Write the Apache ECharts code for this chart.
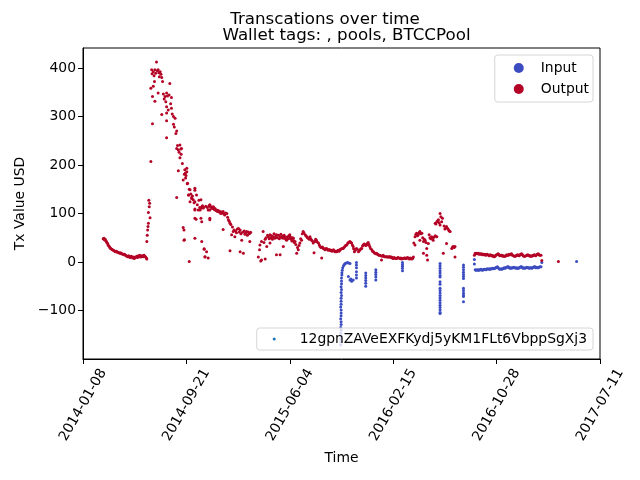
<!DOCTYPE html>
<html>
<head>
<meta charset="utf-8">
<title>Transcations over time</title>
<script src="https://cdn.jsdelivr.net/npm/echarts@6.0.0/dist/echarts.min.js"></script>
<style>
    html, body { margin: 0; padding: 0; background: #fff; }
    #chart { width: 640px; height: 480px; }
</style>
</head>
<body>
<div id="chart"></div>
<script>
// x values are days since the first tick (2014-01-08)
const startDate = Date.UTC(2014, 0, 8);
const dayMs = 24 * 3600 * 1000;
const xTickLabels = ['2014-01-08', '2014-09-21', '2015-06-04', '2016-02-15', '2016-10-28', '2017-07-11'];
const walletName = '12gpnZAVeEXFKydj5yKM1FLt6VbppSgXj3';

// [day, usd]
const outputTx = [
    [50,48],[52,49],[53,46],[55,47],[56,44],[58,42],[59,40],[61,38],[62,35],[64,33],[66,31],[67,29],[69,28],[71,26],[73,25],[75,24],[77,23],[79,22],[81,21],[83,22],[85,20],[87,20],[89,19],[91,18],[93,19],[95,17],[97,17],[99,16],[101,15],[103,16],[105,14],[107,13],[109,12],[111,11],[113,13],[115,10],[117,9],[119,12],[121,11],[123,8],[125,10],[127,7],[129,9],[131,10],[133,12],[135,9],[137,13],[139,11],[141,14],[143,10],[145,12],[147,13],[149,11],[151,14],[153,12],[155,10],[157,8],[158,6],
    [158,42],[159,55],[160,66],[161,73],[162,80],[162,102],[163,127],[164,114],[165,121],[166,91],[168,207],[172,285],
    [168,358],[170,396],[171,388],[172,341],[174,392],[174,362],[176,384],[177,372],[178,396],[178,331],[180,389],[182,412],[184,394],[186,396],[186,348],[188,390],[189,382],[191,392],[193,387],[195,380],[195,304],[197,372],[199,346],[201,336],[203,341],[205,330],[207,348],[207,320],[207,307],[207,291],[207,256],[209,342],[211,313],[213,344],[215,368],[217,326],[219,339],[219,317],[221,305],[224,300],[224,284],[226,278],[228,296],[230,265],[232,270],[232,234],[232,133],[234,240],[236,231],[236,188],[238,226],[240,241],[240,215],[242,233],[243,222],[244,234],[246,203],[248,71],[248,169],[250,66],[250,45],[251,181],[251,46],[252,190],[253,183],[254,173],[255,178],[257,186],[257,193],[258,161],[259,162],[261,138],[262,138],[263,150],[263,1],[265,149],[265,124],[267,140],[269,133],[269,131],[271,136],[273,128],[275,122],[277,152],[277,148],[277,124],[277,109],[277,107],[277,90],[277,49],[280,88],[281,138],[283,118],[285,107],[287,127],[289,112],[290,107],[292,128],[292,90],[294,114],[294,111],[294,83],[294,42],[296,116],[298,113],[298,111],[300,27],[300,26],[302,11],[302,10],[304,115],[306,21],[308,112],[310,107],[310,8],[312,116],[314,118],[314,107],[314,90],[314,87],[316,113],[318,114],[320,110],[322,111],[323,114],[325,108],[327,110],[329,106],[331,107],[333,104],[335,106],[337,103],[339,104],[341,100],[343,103],[345,101],[347,104],[347,67],[349,99],[351,97],[353,101],[356,100],[358,92],[360,87],[362,84],[364,80],[364,23],[366,77],[368,56],[370,72],[372,63],[374,66],[376,52],[378,64],[380,60],[382,68],[385,69],[387,62],[389,66],[389,21],[391,58],[393,45],[395,61],[397,18],[399,64],[401,57],[403,60],[405,63],[407,55],[409,62],[411,58],[413,59],[413,42],[415,61],
    [434,10],[437,25],[438,35],[440,2],[442,42],[442,4],[446,63],[448,40],[451,47],[451,6],[453,50],[455,32],[457,55],[459,52],[461,48],[463,56],[463,39],[465,50],[467,54],[469,47],[471,52],[473,58],[475,49],[477,53],[479,56],[479,15],[481,50],[484,55],[486,48],[488,52],[488,15],[490,57],[492,50],[494,53],[496,49],[496,32],[498,55],[500,51],[502,47],[504,45],[506,52],[508,48],[510,54],[512,49],[512,56],[514,51],[516,47],[517,43],[519,50],[521,49],[521,44],[523,40],[525,42],[527,36],[529,18],[531,30],[533,25],[535,34],[537,39],[539,48],[541,45],[543,58],[545,63],[547,60],[550,56],[552,54],[554,52],[556,50],[558,49],[560,47],[562,52],[564,48],[566,45],[568,43],[570,39],[572,19],[574,42],[576,47],[578,45],[580,41],[583,39],[585,35],[587,32],[589,30],[591,8],[593,31],[595,28],[597,27],[599,25],[601,27],[603,28],[605,26],[607,24],[609,25],[611,25],[613,23],[615,24],[617,22],[620,25],[622,23],[624,21],[626,22],[628,21],[630,23],[632,24],[634,22],[636,25],[638,26],[640,27],[642,28],[644,28],[646,30],[648,32],[650,34],[653,35],[655,38],[657,40],[659,41],[661,42],[663,40],[665,39],[667,35],[669,32],[670,27],[672,21],[674,24],[677,28],[679,26],[682,21],[684,23],[686,25],[688,27],[690,28],[692,33],[694,35],[696,37],[698,36],[700,34],[702,35],[704,38],[706,40],[708,36],[710,32],[712,28],[715,25],[717,22],[719,21],[721,19],[723,18],[725,17],[727,18],[729,16],[731,15],[733,14],[735,14],[737,13],[739,4],[741,12],[743,14],[745,12],[747,11],[750,11],[752,11],[754,10],[756,10],[758,11],[760,11],[762,9],[764,10],[766,8],[768,7],[770,9],[772,8],[774,7],[776,7],[778,8],[780,9],[782,8],[785,7],[787,8],[789,6],[791,7],[793,7],[795,8],[797,8],[799,7],[801,7],[803,9],[806,8],[808,6],[809,7],[811,8],[814,6],[816,7],[818,10],
    [819,39],[822,52],[822,35],[824,57],[826,59],[826,56],[828,54],[830,56],[832,60],[834,63],[834,45],[836,58],[839,59],[841,50],[843,42],[843,18],[845,47],[847,45],[849,40],[851,28],[851,14],[853,4],[855,38],[857,56],[859,50],[861,48],[863,52],[865,49],[867,45],[869,51],[872,54],[872,80],[874,78],[876,52],[876,83],[878,85],[880,87],[882,81],[884,100],[884,76],[886,93],[888,83],[890,90],[892,18],[894,74],[896,68],[898,70],[900,38],[900,73],[903,69],[905,66],[907,64],[909,63],[913,28],[915,31],[917,32],[919,30],[921,32],[921,10],
    [969,14],[971,18],[973,17],[975,18],[977,17],[979,18],[981,16],[983,17],[985,16],[987,17],[989,15],[991,16],[993,15],[995,16],[997,14],[999,15],[1001,16],[1004,14],[1006,13],[1008,15],[1010,14],[1012,14],[1014,12],[1016,13],[1018,11],[1020,12],[1022,14],[1024,15],[1026,16],[1028,17],[1030,15],[1032,13],[1035,14],[1037,14],[1039,12],[1041,13],[1043,12],[1045,12],[1047,13],[1049,15],[1051,14],[1053,14],[1055,16],[1057,15],[1059,16],[1061,17],[1063,14],[1066,13],[1068,12],[1070,12],[1072,13],[1074,14],[1076,15],[1078,14],[1080,13],[1082,15],[1084,16],[1086,17],[1088,15],[1090,13],[1092,12],[1094,12],[1097,13],[1099,14],[1101,15],[1103,14],[1105,13],[1107,12],[1109,13],[1111,12],[1113,13],[1115,14],[1117,15],[1119,14],[1121,13],[1123,15],[1125,16],[1127,17],[1129,15],[1131,14],[1134,14],[1136,3],[1177,1]
];

const inputTx = [
    [638,-171],[638,-165],[638,-159],[639,-153],[638,-147],[639,-141],[638,-135],[639,-129],[639,-123],[638,-117],[639,-111],[639,-105],[639,-99],[638,-93],[639,-87],[639,-81],[639,-75],[640,-69],[639,-63],[640,-57],[639,-51],[640,-45],[640,-39],[640,-33],[641,-27],[641,-22],[642,-17],[643,-12],[645,-8],[647,-5],[649,-3],[652,-2],[655,-1],[658,-2],[661,-3],
    [657,-30],[661,-37],[663,-35],[665,-40],[669,-37],
    [677,-1],[677,-6],[677,-12],[677,-20],[677,-27],[677,-33],
    [700,-23],[700,-28],[700,-33],[700,-38],[700,-44],[700,-50],
    [725,-16],[725,-21],[725,-26],[725,-31],[725,-37],
    [791,-1],[791,-5],[791,-9],[791,-13],[791,-18],
    [884,-3],[884,-8],[884,-13],[884,-18],[884,-23],[884,-28],[884,-31],[884,-41],[884,-46],[884,-54],[884,-59],[884,-64],[884,-69],[884,-74],[884,-79],[884,-84],[884,-89],[884,-94],[884,-99],[884,-104],[884,-106],
    [942,-6],[942,-11],[942,-16],[942,-21],[942,-26],[942,-30],[942,-34],[942,-54],[942,-59],[942,-64],[942,-68],[942,-71],[942,-82],
    [969,5],[969,-4],[971,-16],[973,-17],[975,-16],[977,-17],[979,-16],[981,-17],[983,-16],[985,-15],[987,-16],[989,-17],[991,-16],[993,-15],[995,-15],[997,-16],[999,-15],[1001,-14],[1004,-15],[1006,-14],[1008,-15],[1010,-14],[1012,-14],[1014,-13],[1016,-14],[1018,-13],[1020,-13],[1022,-12],[1024,-11],[1026,-10],[1028,-12],[1030,-14],[1032,-15],[1035,-14],[1037,-15],[1039,-14],[1041,-13],[1043,-12],[1045,-13],[1047,-12],[1049,-11],[1051,-10],[1053,-10],[1055,-12],[1057,-13],[1059,-12],[1061,-13],[1063,-12],[1066,-11],[1068,-12],[1070,-12],[1072,-13],[1074,-12],[1076,-13],[1078,-13],[1080,-12],[1082,-11],[1084,-10],[1086,-10],[1088,-12],[1090,-13],[1092,-12],[1094,-13],[1097,-12],[1099,-11],[1101,-12],[1103,-12],[1105,-13],[1107,-12],[1109,-12],[1111,-13],[1113,-12],[1115,-11],[1117,-10],[1119,-10],[1121,-12],[1123,-11],[1125,-12],[1127,-12],[1129,-11],[1131,-10],[1134,-10],[1136,-1],[1222,1]
];

const fontFamily = 'DejaVu Sans';
const inputColor = '#3b4cc0';
const outputColor = '#b40426';

let dateLabel = function (day) {
    let i = Math.round(day / 256);
    if (Math.abs(day - i * 256) < 0.5 && xTickLabels[i]) {
        return xTickLabels[i];
    }
    return new Date(startDate + day * dayMs).toISOString().slice(0, 10);
};

let chart = echarts.init(document.getElementById('chart'), null, { renderer: 'canvas' });

let legendBox = {
    orient: 'vertical',
    backgroundColor: 'rgba(255,255,255,0.8)',
    borderColor: '#d6d6d6',
    borderWidth: 1,
    borderRadius: 3,
    itemWidth: 10,
    itemHeight: 10,
    textStyle: { fontFamily: fontFamily, fontSize: 13.9, color: '#000', padding: [0, 0, 0, 12] }
};

let option = {
    animation: false,
    backgroundColor: '#fff',
    title: [
        {
            text: 'Transcations over time',
            left: 320,
            top: 6,
            textAlign: 'center',
            textStyle: { fontFamily: fontFamily, fontSize: 16.7, fontWeight: 'normal', color: '#000' }
        },
        {
            text: 'Wallet tags: , pools, BTCCPool',
            left: 341.5,
            top: 22,
            textAlign: 'center',
            textStyle: { fontFamily: fontFamily, fontSize: 16.7, fontWeight: 'normal', color: '#000' }
        }
    ],
    legend: [
        Object.assign({}, legendBox, {
            data: [{ name: 'Input', icon: 'circle' }, { name: 'Output', icon: 'circle' }],
            right: 47,
            top: 55,
            itemGap: 7,
            padding: [6, 4, 6, 19]
        }),
        Object.assign({}, legendBox, {
            data: [{ name: walletName, icon: 'circle' }],
            right: 47,
            top: 328,
            itemWidth: 3,
            itemHeight: 3,
            padding: [4, 6, 4, 16],
            textStyle: { fontFamily: fontFamily, fontSize: 13.9, color: '#000', padding: [0, 0, 0, 19] }
        })
    ],
    grid: {
        left: 83,
        right: 40,
        top: 48,
        bottom: 121,
        show: true,
        borderColor: '#000',
        borderWidth: 1,
        containLabel: false
    },
    xAxis: {
        type: 'value',
        min: 0,
        max: 1280,
        interval: 256,
        name: 'Time',
        nameLocation: 'middle',
        nameGap: 92,
        nameTextStyle: { fontFamily: fontFamily, fontSize: 13.9, color: '#000' },
        splitLine: { show: false },
        axisLine: { onZero: false, lineStyle: { color: '#000' } },
        axisTick: { length: 5, lineStyle: { color: '#000' } },
        axisLabel: {
            rotate: 60,
            align: 'center',
            verticalAlign: 'middle',
            margin: 46,
            fontFamily: fontFamily,
            fontSize: 13.9,
            color: '#000',
            formatter: dateLabel
        }
    },
    yAxis: {
        type: 'value',
        min: -200,
        max: 441,
        interval: 100,
        name: 'Tx Value USD',
        nameLocation: 'middle',
        nameGap: 56,
        nameTextStyle: { fontFamily: fontFamily, fontSize: 13.9, color: '#000' },
        splitLine: { show: false },
        axisLine: { show: true, lineStyle: { color: '#000' } },
        axisTick: { show: true, length: 5, lineStyle: { color: '#000' } },
        axisLabel: {
            showMinLabel: false,
            showMaxLabel: false,
            margin: 7,
            fontFamily: fontFamily,
            fontSize: 13.9,
            color: '#000',
            formatter: function (v) {
                if (v > 400) {
                    return '';
                }
                return v < 0 ? '\u2212' + Math.abs(v) : String(v);
            }
        }
    },
    series: [
        {
            name: 'Input',
            type: 'scatter',
            data: inputTx,
            symbolSize: 3,
            itemStyle: { color: inputColor, opacity: 1 },
            silent: true
        },
        {
            name: 'Output',
            type: 'scatter',
            data: outputTx,
            symbolSize: 3,
            itemStyle: { color: outputColor, opacity: 1 },
            silent: true
        },
        {
            name: walletName,
            type: 'scatter',
            data: [],
            itemStyle: { color: '#1f77b4', opacity: 1 }
        }
    ]
};

chart.setOption(option);
</script>
</body>
</html>
